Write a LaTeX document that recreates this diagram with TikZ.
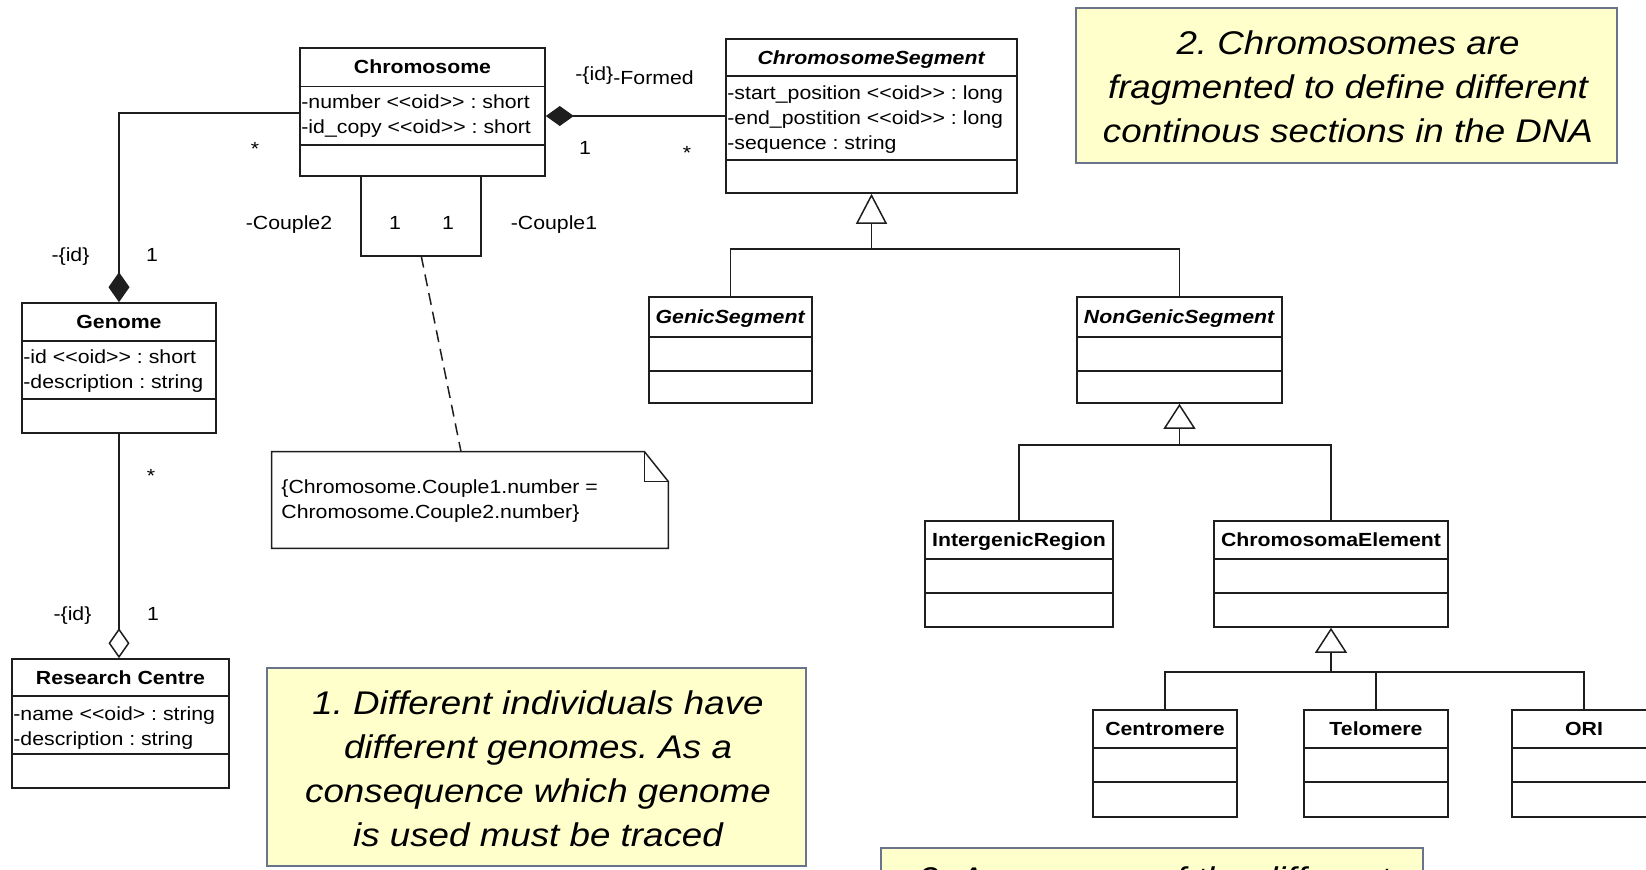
\documentclass[tikz,border=0pt]{standalone}
\usepackage{fontspec}
\setmainfont{Liberation Sans}[FakeStretch=1.12]
\usetikzlibrary{arrows.meta,fit}
\frenchspacing

\definecolor{notefill}{RGB}{255,255,204}
\definecolor{noteline}{RGB}{105,115,140}
\definecolor{umlline}{RGB}{30,30,30}

% <<oid>> without the TeX guillemet ligature
\newcommand\oidtag{<\kern0pt<oid>\kern0pt>}
\newcommand\oidhalf{<\kern0pt<oid>}

% class box: name, left, top, right, header line, separator line, bottom, title
\newcommand\umlclass[8]{%
  \node[classframe, fit={(#2,#3)(#4,#7)}] (#1) {};
  \draw[classline] (#2,#5) -- (#4,#5) (#2,#6) -- (#4,#6);
  \node[classtitle] (#1-title) at ({(#2+#4)/2},{(#3+#5)/2+6.7}) {#8};
}

\begin{document}
\begin{tikzpicture}[x=0.5pt,y=-0.5pt,
  classframe/.style={draw=umlline, line width=0.8pt, inner sep=0pt},
  classline/.style={draw=umlline, line width=0.8pt},
  classtitle/.style={anchor=base, inner sep=0pt, font=\fontsize{9.5}{11}\selectfont\bfseries},
  attr/.style={anchor=base west, inner sep=0pt, font=\fontsize{9.5}{11}\selectfont},
  lbl/.style={anchor=base, inner sep=0pt, font=\fontsize{9.5}{11}\selectfont},
  lblw/.style={anchor=base west, inner sep=0pt, font=\fontsize{9.5}{11}\selectfont},
  conn/.style={draw=umlline, line width=0.75pt},
  comp/.style={conn, -{Diamond[length=15pt,width=10.5pt]}},
  agg/.style={conn, -{Diamond[open,fill=white,length=15pt,width=10.5pt]}},
  gen/.style={conn, -{Triangle[open,fill=white,length=12.5pt,width=16pt]}},
  notebox/.style={draw=noteline, fill=notefill, line width=1pt, inner sep=0pt},
  notetext/.style={font=\fontsize{16.4}{22}\selectfont\itshape, align=center, inner sep=0pt},
  ctext/.style={font=\fontsize{9.5}{12.5}\selectfont, align=left, inner sep=0pt, anchor=north west}]

\useasboundingbox (0,0) rectangle (1646,869);
\clip (0,0) rectangle (1646,869);

% ---- classes ----
\umlclass{chrom}{300}{48}{545}{86.5}{145}{176}{Chromosome}
\node[attr] (chrom-a1) at (301,108.7) {-number \oidtag{} : short};
\node[attr] (chrom-a2) at (301,133.7) {-id\_copy \oidtag{} : short};

\umlclass{seg}{726}{39}{1017}{76}{160}{193}{\textit{ChromosomeSegment}}
\node[attr] (seg-a1) at (727,99.5) {-start\_position \oidtag{} : long};
\node[attr] (seg-a2) at (727,124.5) {-end\_postition \oidtag{} : long};
\node[attr] (seg-a3) at (727,149.5) {-sequence : string};

\umlclass{genome}{22}{303}{216}{341}{399}{433}{Genome}
\node[attr] (genome-a1) at (23,363) {-id \oidtag{} : short};
\node[attr] (genome-a2) at (23,388.5) {-description : string};

\umlclass{rc}{12}{659}{229}{696}{754}{788}{Research Centre}
\node[attr] (rc-a1) at (13,720) {-name \oidhalf{} : string};
\node[attr] (rc-a2) at (13,745) {-description : string};

\umlclass{genic}{649}{297}{812}{337}{371}{403}{\textit{GenicSegment}}
\umlclass{nongenic}{1077}{297}{1282}{337}{371}{403}{\textit{NonGenicSegment}}
\umlclass{igr}{925}{521}{1113}{559}{593}{627}{IntergenicRegion}
\umlclass{ce}{1214}{521}{1448}{559}{593}{627}{ChromosomaElement}
\umlclass{centro}{1093}{710}{1237}{748}{782}{817}{Centromere}
\umlclass{telo}{1304}{710}{1448}{748}{782}{817}{Telomere}
\umlclass{ori}{1512}{710}{1656}{748}{782}{817}{ORI}

% ---- constraint note ----
\node[inner sep=0pt, fit={(272,452)(668,548)}] (cnote) {};
\draw[conn, fill=white] (cnote.north west) -- ([xshift=-12pt]cnote.north east)
  -- ([yshift=-15pt]cnote.north east) -- (cnote.south east) -- (cnote.south west) -- cycle;
\draw[conn] ([xshift=-12pt]cnote.north east) |- ([yshift=-15pt]cnote.north east);
\node[ctext] (cnote-txt) at (281,479) {\{Chromosome.Couple1.number =\\Chromosome.Couple2.number\}};

% ---- associations ----
% Genome composed of Chromosomes
\draw[comp] ([yshift=-0.5pt]chrom.west) -| (genome.north);
\node[lbl] (m1) at (255,155) {*};
\node[lbl] (r1) at (70.5,261.5) {-\{id\}};
\node[lbl] (m2) at (152,261.5) {1};

% Research Centre aggregates Genomes
\draw[agg] (genome.south) -- (genome.south |- rc.north);
\node[lbl] (m3) at (151,482) {*};
\node[lbl] (r2) at (72.5,620.5) {-\{id\}};
\node[lbl] (m4) at (153,620.5) {1};

% Chromosome formed by segments
\draw[conn, {Diamond[length=14pt,width=10pt]}-] (chrom.east |- seg.west) -- (seg.west);
\node[lblw] (r3) at (575,80) {-\{id\}};
\node[lblw] (r4) at (613,84) {-Formed};
\node[lbl] (m5) at (585,154.5) {1};
\node[lbl] (m6) at (687,159) {*};

% Chromosome couples (self association)
\coordinate (loopB) at ([xshift=61pt,yshift=-39.5pt]chrom.south west);
\draw[conn] ([xshift=31pt]chrom.south west) -- ++(0,79) -| ([xshift=91pt]chrom.south west);
\node[lbl] (r5) at (289,229.5) {-Couple2};
\node[lbl] (m7) at (395,229.5) {1};
\node[lbl] (m8) at (448,229.5) {1};
\node[lbl] (r6) at (554,229.5) {-Couple1};
\draw[conn, dash pattern=on 6pt off 3.5pt] (loopB) -- ([xshift=-4.5pt]cnote.north);

% ---- generalizations ----
\coordinate (j1) at (871.5,249);
\draw[conn] (genic.north) |- (j1) -| (nongenic.north);
\draw[conn, -{Triangle[open,fill=white,length=15pt,width=15.5pt]}] (j1) -- (seg.south);

\coordinate (j2) at (1179.5,445);
\draw[conn] (igr.north) |- (j2) -| (ce.north);
\draw[gen] (j2) -- (nongenic.south);

\coordinate (j3) at (1331,672);
\draw[conn] (centro.north) |- (j3) -| (ori.north);
\draw[conn] (telo.north) -- (telo.north |- j3);
\draw[gen] (j3) -- (ce.south);

% ---- notes ----
\node[notebox, fit={(267,668)(806,866)}] (note1) {};
\node[notetext] (note1-txt) at (538,768.5) {1. Different individuals have\\different genomes. As a\\consequence which genome\\is used must be traced};

\node[notebox, fit={(1076,8)(1617,163)}] (note2) {};
\node[notetext] (note2-txt) at (1348,87) {2. Chromosomes are\\fragmented to define different\\continous sections in the DNA};

\node[notebox, fit={(881,848)(1423,960)}] (note3) {};
\node[notetext, anchor=base] (note3-txt) at (1154,890.5) {3. A summary of the different};
\end{tikzpicture}
\end{document}
